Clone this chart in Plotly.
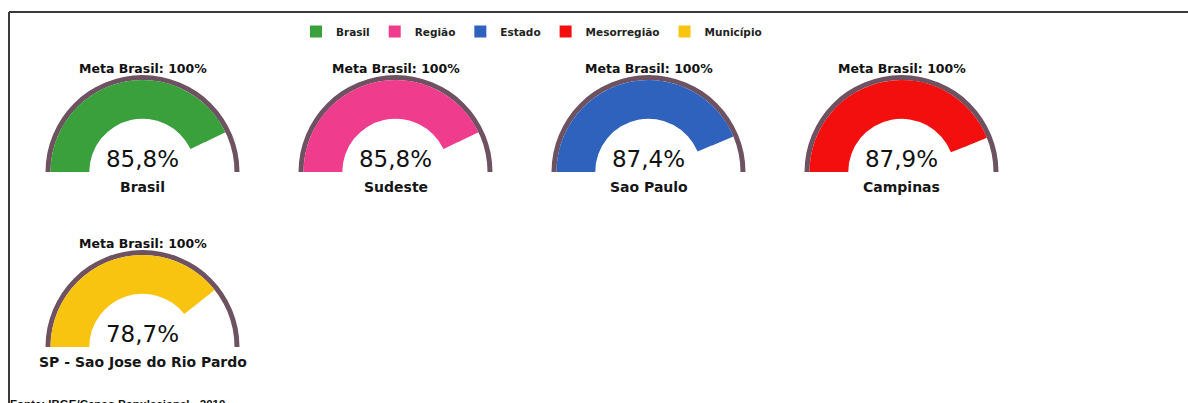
import plotly.graph_objects as go

# ---------------- data ----------------
region_names = ["Brasil", "Sudeste", "Sao Paulo", "Campinas", "SP - Sao Jose do Rio Pardo"]
coverage_values = [85.8, 85.8, 87.4, 87.9, 78.7]
level_names = ["Brasil", "Região", "Estado", "Mesorregião", "Município"]
level_colors = ["#39a03b", "#f03c8c", "#2f62bd", "#f40f0f", "#f9c40f"]
meta_value = 100
meta_label = "Meta Brasil: 100%"
source_text = "Fonte: IBGE/Censo Populacional - 2010"

# ---------------- layout constants (px) ----------------
W, H = 1188, 403
RING_COLOR = "#6e5262"
centers_x = [142.5, 395.5, 648.5, 901.5, 142.5]
baselines = [172, 172, 172, 172, 347]
R_OUT = 97          # outer radius of the meta ring
RING_W = 5          # ring thickness
R_C = 71            # radius of inner layer (band inner edge = 0.75 * R_C)


def dom(cx, by, r):
    return dict(x=[(cx - r) / W, (cx + r) / W], y=[1 - by / H, 1 - (by - r) / H])


fig = go.Figure()

for name, val, col, cx, by in zip(region_names, coverage_values, level_colors, centers_x, baselines):
    # layer A: meta ring (0..100)
    fig.add_trace(go.Indicator(
        mode="gauge", value=meta_value, domain=dom(cx, by, R_OUT),
        gauge=dict(shape="angular", axis=dict(range=[0, meta_value], visible=False),
                   bar=dict(color=RING_COLOR, thickness=1, line=dict(width=0)),
                   bgcolor="rgba(0,0,0,0)", borderwidth=0)))
    # layer B: white inner + value band outer part
    fig.add_trace(go.Indicator(
        mode="gauge", value=val, domain=dom(cx, by, R_OUT - RING_W),
        gauge=dict(shape="angular", axis=dict(range=[0, meta_value], visible=False),
                   bar=dict(color=col, thickness=1, line=dict(width=0)),
                   bgcolor="white", borderwidth=0)))
    # layer C: value band inner part + number
    fig.add_trace(go.Indicator(
        mode="gauge+number", value=val, domain=dom(cx, by, R_C),
        number=dict(suffix="%", valueformat=".1f",
                    font=dict(family="DejaVu Sans", size=23, color="#111111")),
        gauge=dict(shape="angular", axis=dict(range=[0, meta_value], visible=False),
                   bar=dict(color=col, thickness=1, line=dict(width=0)),
                   bgcolor="rgba(0,0,0,0)", borderwidth=0)))
    # texts
    fig.add_annotation(x=cx / W, y=1 - (by - 104) / H, xref="paper", yref="paper",
                       text=meta_label, showarrow=False, xanchor="center", yanchor="middle",
                       font=dict(family="DejaVu Sans", size=12.5, color="#111111", weight="bold"))
    fig.add_annotation(x=cx / W, y=1 - (by + 15) / H, xref="paper", yref="paper",
                       text=name, showarrow=False, xanchor="center", yanchor="middle",
                       font=dict(family="DejaVu Sans", size=14, color="#161616", weight="bold"))

# legend entries
for ln, col in zip(level_names, level_colors):
    fig.add_trace(go.Scatter(x=[None], y=[None], mode="markers", name=ln,
                             marker=dict(symbol="square", size=12, color=col),
                             showlegend=True))

# source note (cut at the bottom edge, as in the original)
fig.add_annotation(x=8 / W, y=1 - 396 / H, xref="paper", yref="paper", text=source_text,
                   showarrow=False, xanchor="left", yanchor="top",
                   font=dict(family="Liberation Sans", size=11.5, color="#111111", weight="bold"))

# frame lines
fig.add_shape(type="line", xref="paper", yref="paper", x0=9 / W, x1=1, y0=1 - 12 / H, y1=1 - 12 / H,
              line=dict(color="#3a3a3a", width=2))
fig.add_shape(type="line", xref="paper", yref="paper", x0=9 / W, x1=9 / W, y0=1 - 12 / H, y1=0,
              line=dict(color="#3a3a3a", width=2))

fig.update_layout(
    width=W, height=H, margin=dict(l=0, r=0, t=0, b=0),
    paper_bgcolor="white", plot_bgcolor="rgba(0,0,0,0)",
    separators=",.",
    xaxis=dict(visible=False), yaxis=dict(visible=False),
    showlegend=True,
    legend=dict(orientation="h", x=296 / W, xanchor="left", y=1 - 17 / H, yanchor="top",
                font=dict(family="DejaVu Sans", size=10.5, color="#222222", weight="bold"),
                bgcolor="rgba(0,0,0,0)", borderwidth=0, itemclick=False),
)

fig.write_html("out.html", config={"displayModeBar": False},
               post_script="document.body.style.margin='0';")
